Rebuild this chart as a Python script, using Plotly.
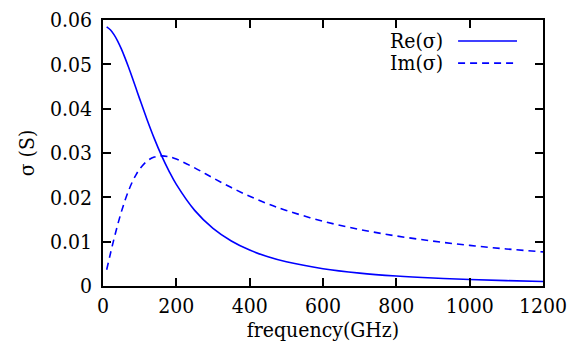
import plotly.graph_objects as go

freq = [10, 20, 30, 40, 50, 60, 70, 80, 90, 100, 120, 140, 160, 180, 200, 250, 300,
        350, 400, 450, 500, 600, 700, 800, 900, 1000, 1100, 1200]
re_sigma = [0.05847, 0.05780, 0.05671, 0.05525, 0.05348, 0.05146, 0.04927, 0.04696,
            0.04459, 0.04221, 0.03757, 0.03325, 0.02935, 0.02591, 0.02291, 0.01706,
            0.01300, 0.01015, 0.008097, 0.006588, 0.005453, 0.003897, 0.002915,
            0.002258, 0.001798, 0.001465, 0.001216, 0.001025]
im_sigma = [0.003655, 0.007225, 0.01063, 0.01381, 0.01671, 0.01930, 0.02156, 0.02348,
            0.02508, 0.02638, 0.02818, 0.02909, 0.02935, 0.02915, 0.02863, 0.02665,
            0.02437, 0.02220, 0.02024, 0.01853, 0.01704, 0.01461, 0.01275, 0.01129,
            0.01012, 0.009158, 0.008361, 0.007690]
x_ticks = [0, 200, 400, 600, 800, 1000, 1200]
y_ticks = [0, 0.01, 0.02, 0.03, 0.04, 0.05, 0.06]
y_tick_text = ["0", "0.01", "0.02", "0.03", "0.04", "0.05", "0.06"]
series_names = ["Re(σ)", "Im(σ)"]

FONT = "DejaVu Serif Condensed, Liberation Serif, serif"
COLOR = "#0000ff"
FS = 21

fig = go.Figure()
fig.add_trace(go.Scatter(x=freq, y=re_sigma, mode="lines", name=series_names[0],
                         line=dict(color=COLOR, width=1.6, shape="spline")))
fig.add_trace(go.Scatter(x=freq, y=im_sigma, mode="lines", name=series_names[1],
                         line=dict(color=COLOR, width=1.6, shape="spline", dash="7px,5px")))

axis_common = dict(showline=True, linecolor="black", linewidth=1.6, mirror="allticks",
                   ticks="inside", ticklen=8, tickwidth=1.6, tickcolor="black",
                   showgrid=False, zeroline=False, ticklabeloverflow="allow",
                   tickfont=dict(family=FONT, size=FS, color="black"))

# page body has an 8px margin: figure is sized so that it fits the 587x350 window
fig.update_layout(
    width=579, height=342,
    margin=dict(l=95, r=44, t=0, b=64),
    plot_bgcolor="white", paper_bgcolor="white",
    font=dict(family=FONT, size=FS, color="black"),
    showlegend=False,
    xaxis=dict(range=[0, 1200], tickvals=x_ticks,
               title=dict(text="frequency(GHz)", font=dict(family=FONT, size=FS, color="black"),
                          standoff=2),
               **axis_common),
    yaxis=dict(range=[0, 0.0600001], tickvals=y_ticks, ticktext=y_tick_text,
               ticklabelstandoff=5,
               title=dict(text="σ (S)", font=dict(family=FONT, size=FS, color="black"),
                          standoff=10),
               **axis_common),
)

legend_rows = [(0.921, "solid"), (0.838, "dash")]
for name, (yy, dash) in zip(series_names, legend_rows):
    fig.add_annotation(x=0.777, y=yy, xref="paper", yref="paper", text=name,
                       showarrow=False, xanchor="right", yanchor="middle",
                       font=dict(family=FONT, size=FS, color="black"))
    fig.add_shape(type="line", xref="paper", yref="paper", x0=0.807, x1=0.941, y0=yy, y1=yy,
                  line=dict(color=COLOR, width=1.6, dash="7px,5px" if dash == "dash" else "solid"))

fig.write_html("out.html")
